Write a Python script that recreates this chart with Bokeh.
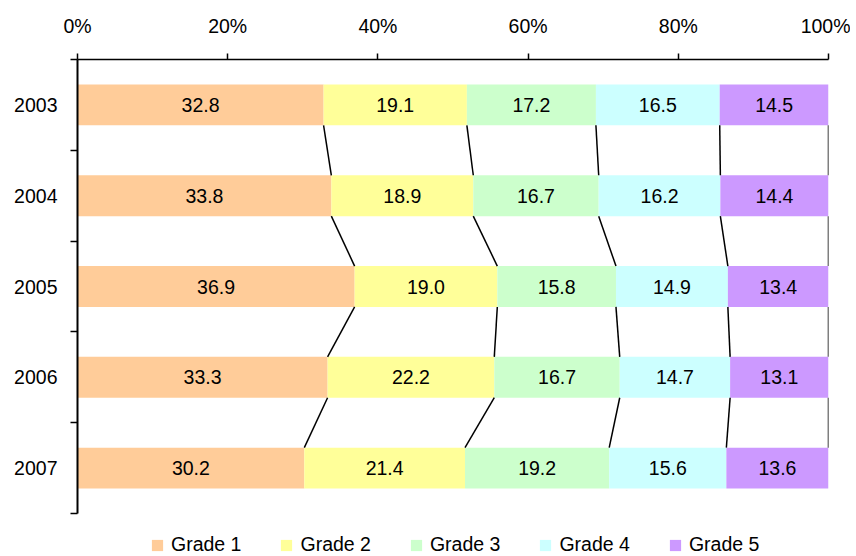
import numpy as np
from bokeh.plotting import figure
from bokeh.models import (Range1d, FixedTicker, PrintfTickFormatter, ColumnDataSource,
                          Legend, LegendItem)
from bokeh.core.properties import value
from bokeh.embed import file_html
from bokeh.resources import INLINE

years = ["2003", "2004", "2005", "2006", "2007"]
grade1 = [32.8, 33.8, 36.9, 33.3, 30.2]
grade2 = [19.1, 18.9, 19.0, 22.2, 21.4]
grade3 = [17.2, 16.7, 15.8, 16.7, 19.2]
grade4 = [16.5, 16.2, 14.9, 14.7, 15.6]
grade5 = [14.5, 14.4, 13.4, 13.1, 13.6]
series_names = ["Grade 1", "Grade 2", "Grade 3", "Grade 4", "Grade 5"]
colors = ["#FFCC99", "#FFFF99", "#CCFFCC", "#CCFFFF", "#CC99FF"]
x_ticks = [0, 20, 40, 60, 80, 100]

FONT = "Liberation Sans"
FS = "19.5px"
BAR_H = 0.45

vals = np.array([grade1, grade2, grade3, grade4, grade5], dtype=float)  # series x years
pct = vals / vals.sum(axis=0) * 100.0
cum_right = np.cumsum(pct, axis=0)
cum_left = cum_right - pct
ypos = list(range(len(years)))

# layout: category area 454 px tall, plus 43 px strip below it for the legend
CAT_PX = 454
LEG_PX = 43
n = len(years)
extra = LEG_PX * n / CAT_PX
y_lo, y_hi = -0.5, n - 0.5

p = figure(frame_width=751, frame_height=CAT_PX + LEG_PX,
           x_range=Range1d(0, 100), y_range=Range1d(y_hi + extra, y_lo),
           x_axis_location="above", output_backend="svg", toolbar_location=None,
           min_border_left=77, min_border_right=22, min_border_top=59, min_border_bottom=0)

data = {"y": ypos}
keys = []
for k, name in enumerate(series_names):
    key = "g%d" % (k + 1)
    data[key] = list(pct[k])
    keys.append(key)
src = ColumnDataSource(data)

renderers = p.hbar_stack(keys, y="y", height=BAR_H, color=colors, line_color=None, source=src)

# value labels
lx, ly, lt = [], [], []
for k in range(len(series_names)):
    for i in ypos:
        lx.append((cum_left[k][i] + cum_right[k][i]) / 2.0)
        ly.append(i)
        lt.append("%.1f" % vals[k][i])
p.text(x=lx, y=ly, text=lt, text_align="center", text_baseline="middle",
       text_font=value(FONT), text_font_size=FS, text_color="black")

# series lines between bars
x0, y0, x1, y1 = [], [], [], []
for k in range(len(series_names)):
    for i in ypos[:-1]:
        x0.append(cum_right[k][i]); y0.append(i + BAR_H / 2)
        x1.append(cum_right[k][i + 1]); y1.append(i + 1 - BAR_H / 2)
p.segment(x0=x0, y0=y0, x1=x1, y1=y1, line_color="black", line_width=1.5)

# axes
xa = p.xaxis[0]
xa.ticker = FixedTicker(ticks=x_ticks, minor_ticks=[])
xa.formatter = PrintfTickFormatter(format="%d%%")
xa.major_tick_out = 6
xa.major_tick_in = 0
xa.major_label_standoff = 17
xa.axis_line_width = 1.5
xa.major_tick_line_width = 1.5
xa.axis_line_color = "black"
xa.major_tick_line_color = "black"
xa.major_label_text_font = FONT
xa.major_label_text_font_size = FS
xa.major_label_text_color = "black"

ya = p.yaxis[0]
ya.bounds = (y_lo, y_hi)
ya.ticker = FixedTicker(ticks=ypos, minor_ticks=[i - 0.5 for i in range(n + 1)])
ya.major_label_overrides = {i: y for i, y in enumerate(years)}
ya.major_tick_out = 0
ya.major_tick_in = 0
ya.minor_tick_out = 7
ya.minor_tick_in = 0
ya.minor_tick_line_width = 1.5
ya.minor_tick_line_color = "black"
ya.axis_line_width = 2
ya.axis_line_color = "black"
ya.major_label_standoff = 13
ya.major_label_text_font = FONT
ya.major_label_text_font_size = FS
ya.major_label_text_color = "black"

p.xgrid.visible = False
p.ygrid.visible = False
p.outline_line_color = None

legend = Legend(items=[LegendItem(label=s, renderers=[r]) for s, r in zip(series_names, renderers)],
                orientation="horizontal", location=(73, 0),
                label_text_font=FONT, label_text_font_size=FS, label_text_color="black",
                glyph_width=14, glyph_height=14, label_standoff=7, spacing=38,
                border_line_color=None, padding=0, margin=0, background_fill_alpha=0)
p.add_layout(legend, "center")

open("out.html", "w").write(file_html(p, INLINE))
